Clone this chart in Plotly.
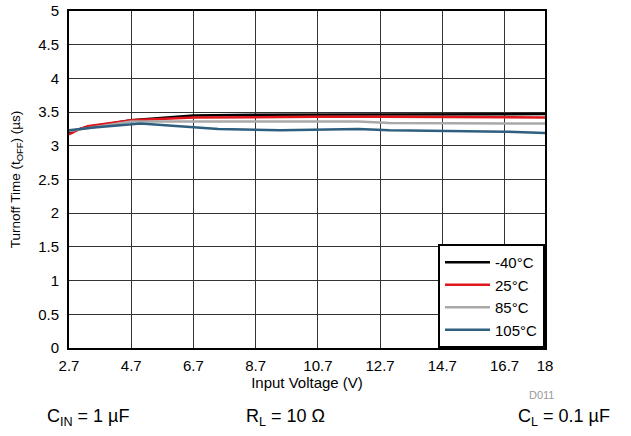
import plotly.graph_objects as go

# Data
vin_m40 = [2.7, 3.2, 4.7, 6.7, 8.7, 10.7, 12.7, 14.7, 16.7, 18]
t_m40 = [3.20, 3.27, 3.38, 3.45, 3.46, 3.46, 3.47, 3.47, 3.47, 3.47]

vin_25 = [2.7, 3.0, 3.3, 4.7, 6.7, 8.7, 10.7, 12.7, 14.7, 16.7, 18]
t_25 = [3.17, 3.24, 3.29, 3.38, 3.42, 3.43, 3.43, 3.43, 3.43, 3.42, 3.42]

vin_85 = [2.7, 4.7, 6.7, 8.7, 10.7, 12.0, 13.0, 14.7, 16.7, 18]
t_85 = [3.22, 3.36, 3.36, 3.36, 3.36, 3.36, 3.34, 3.34, 3.33, 3.33]

vin_105 = [2.7, 3.5, 5.0, 7.5, 9.5, 12.0, 13.0, 14.7, 16.7, 18]
t_105 = [3.23, 3.27, 3.33, 3.25, 3.23, 3.25, 3.23, 3.22, 3.21, 3.19]

x_ticks = [2.7, 4.7, 6.7, 8.7, 10.7, 12.7, 14.7, 16.7, 18]
x_tick_labels = ["2.7", "4.7", "6.7", "8.7", "10.7", "12.7", "14.7", "16.7", "18"]
y_ticks = [0, 0.5, 1, 1.5, 2, 2.5, 3, 3.5, 4, 4.5, 5]
y_tick_labels = ["0", "0.5", "1", "1.5", "2", "2.5", "3", "3.5", "4", "4.5", "5"]

series = [
    ("-40°C", vin_m40, t_m40, "#000000"),
    ("25°C", vin_25, t_25, "#e0161d"),
    ("85°C", vin_85, t_85, "#a9a9a9"),
    ("105°C", vin_105, t_105, "#2f5f7f"),
]

FONT = "Arial, Liberation Sans, sans-serif"
L, R, T, B = 69, 545, 11, 348
PW, PH = R - L, B - T

fig = go.Figure()
for name, x, y, c in series:
    fig.add_trace(go.Scatter(x=x, y=y, mode="lines", name=name,
                             line=dict(color=c, width=2.5)))

fig.update_layout(
    width=631, height=436,
    margin=dict(l=L, r=631 - R, t=T, b=436 - B, autoexpand=False),
    paper_bgcolor="white", plot_bgcolor="white",
    font=dict(family=FONT, color="black", size=13),
    showlegend=True,
    legend=dict(x=1, y=0, xanchor="right", yanchor="bottom",
                bordercolor="black", borderwidth=2, bgcolor="white",
                font=dict(size=15, family=FONT), tracegroupgap=0,
                itemwidth=45),
)
fig.update_xaxes(
    range=[2.7, 18], tickvals=x_ticks, ticktext=x_tick_labels,
    showgrid=True, gridcolor="#333333", gridwidth=1,
    showline=True, linecolor="black", linewidth=2, mirror=True,
    ticks="", tickfont=dict(size=15), zeroline=False, automargin=False,
    ticklabelstandoff=3,
    title=dict(text="Input Voltage (V)", font=dict(size=15), standoff=3),
)
fig.update_yaxes(
    range=[0, 5], tickvals=y_ticks, ticktext=y_tick_labels,
    showgrid=True, gridcolor="#333333", gridwidth=1,
    showline=True, linecolor="black", linewidth=2, mirror=True,
    ticks="", tickfont=dict(size=15), zeroline=False, automargin=False,
    ticklabelstandoff=5,
    title=dict(text="Turnoff Time (t<sub>OFF</sub>) (µs)", font=dict(size=13.5), standoff=14),
)

fig.add_annotation(text="D011", xref="paper", yref="paper",
                   x=(541 - L) / PW, y=-(395 - B) / PH,
                   xanchor="center", yanchor="middle",
                   showarrow=False, font=dict(size=11, color="#999999"))
for txt, px in [("C<sub>IN</sub> = 1 µF", 88), ("R<sub>L</sub> = 10 Ω", 285), ("C<sub>L</sub> = 0.1 µF", 564)]:
    fig.add_annotation(text=txt, xref="paper", yref="paper",
                       x=(px - L) / PW, y=-(417 - B) / PH,
                       xanchor="center", yanchor="middle",
                       showarrow=False, font=dict(size=18, color="black"))

fig.write_html("out.html", config={"displayModeBar": False},
               post_script="document.body.style.margin='0';")
